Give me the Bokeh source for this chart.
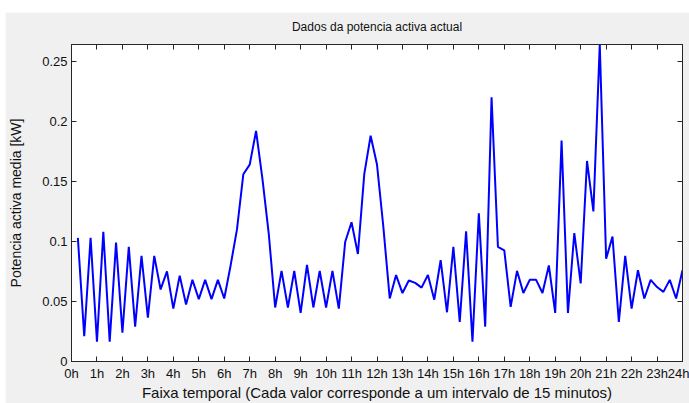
from bokeh.plotting import figure
from bokeh.models import FixedTicker, LinearAxis, Range1d
from bokeh.embed import file_html
from bokeh.resources import INLINE

# Average active power for each 15-minute interval of the day, in kW
potencia_kw = [
    # 00h-06h
    0.103, 0.021, 0.103, 0.0165, 0.108, 0.0165, 0.099, 0.024,
    0.0955, 0.029, 0.088, 0.0365, 0.088, 0.060, 0.075, 0.044,
    0.0715, 0.0475, 0.068, 0.052, 0.068, 0.052, 0.068, 0.0525,
    # 06h-12h
    0.080, 0.110, 0.156, 0.164, 0.192, 0.152, 0.106, 0.045,
    0.0755, 0.045, 0.0755, 0.0405, 0.0805, 0.045, 0.0755, 0.045,
    0.0755, 0.044, 0.0995, 0.116, 0.0895, 0.156, 0.188, 0.164,
    # 12h-18h
    0.112, 0.0525, 0.072, 0.057, 0.0675, 0.0655, 0.0615, 0.072,
    0.0515, 0.0845, 0.041, 0.0955, 0.033, 0.1085, 0.0165, 0.1235,
    0.029, 0.220, 0.0955, 0.0925, 0.0455, 0.0755, 0.057, 0.068,
    # 18h-24h
    0.068, 0.057, 0.080, 0.0405, 0.184, 0.0405, 0.107, 0.065,
    0.167, 0.125, 0.264, 0.0855, 0.104, 0.033, 0.088, 0.044,
    0.076, 0.0525, 0.068, 0.062, 0.058, 0.068, 0.0525, 0.076,
]

# Each value closes a 15-minute interval (0.25 h)
intervalo_h = 0.25
tempo_h = [(i + 1) * intervalo_h for i in range(len(potencia_kw))]

hora_ticks = list(range(25))
hora_labels = [f"{h}h" for h in hora_ticks]

y_ticks = [0, 0.05, 0.1, 0.15, 0.2, 0.25]
y_labels = ["0", "0.05", "0.1", "0.15", "0.2", "0.25"]

titulo = "Dados da potencia activa actual"

FONT = "Liberation Sans"
AXIS_COLOR = "#262626"

p = figure(
    width=684, height=391,
    margin=(12, 0, 0, 5),
    output_backend="svg", toolbar_location=None,
    x_range=Range1d(0, 24), y_range=Range1d(0, max(potencia_kw)),
    x_axis_label="Faixa temporal (Cada valor corresponde a um intervalo de 15 minutos)",
    y_axis_label="Potencia activa media [kW]",
    min_border_left=66, min_border_right=7, min_border_top=32, min_border_bottom=41,
)

p.border_fill_color = "#f0f0f0"
p.background_fill_color = "white"
p.outline_line_color = AXIS_COLOR
p.outline_line_width = 1
p.grid.visible = False

p.line(tempo_h, potencia_kw, line_color="#0000ff", line_width=2)


def style_axis(ax, ticks, labels, show_labels):
    ax.ticker = FixedTicker(ticks=ticks)
    ax.major_label_overrides = {t: l for t, l in zip(ticks, labels)}
    ax.major_tick_in = 5
    ax.major_tick_out = 0
    ax.minor_tick_in = 0
    ax.minor_tick_out = 0
    ax.axis_line_color = AXIS_COLOR
    ax.major_tick_line_color = AXIS_COLOR
    ax.major_label_text_font = FONT
    ax.major_label_text_font_size = "13px"
    ax.major_label_text_color = "#111111" if show_labels else None
    ax.axis_label_text_font = FONT
    ax.axis_label_text_font_style = "normal"
    ax.axis_label_text_color = "#111111"


xa = p.xaxis[0]
ya = p.yaxis[0]
style_axis(xa, hora_ticks, hora_labels, True)
style_axis(ya, y_ticks, y_labels, True)
xa.axis_label_text_font_size = "15px"
ya.axis_label_text_font_size = "14px"
xa.major_label_standoff = 4
xa.axis_label_standoff = 0
ya.major_label_standoff = 4
ya.axis_label_standoff = 15

# Box ticks on the top and right edges; the top one also carries the title
top_axis = LinearAxis(axis_label=titulo)
right_axis = LinearAxis()
style_axis(top_axis, hora_ticks, [""] * len(hora_ticks), False)
style_axis(right_axis, y_ticks, [""] * len(y_ticks), False)
for ax in (top_axis, right_axis):
    ax.major_label_standoff = 0
    ax.major_label_text_font_size = "0px"
top_axis.axis_label_text_font_size = "12px"
top_axis.axis_label_standoff = 11
p.add_layout(top_axis, "above")
p.add_layout(right_axis, "right")

open("out.html", "w").write(file_html(p, INLINE))
